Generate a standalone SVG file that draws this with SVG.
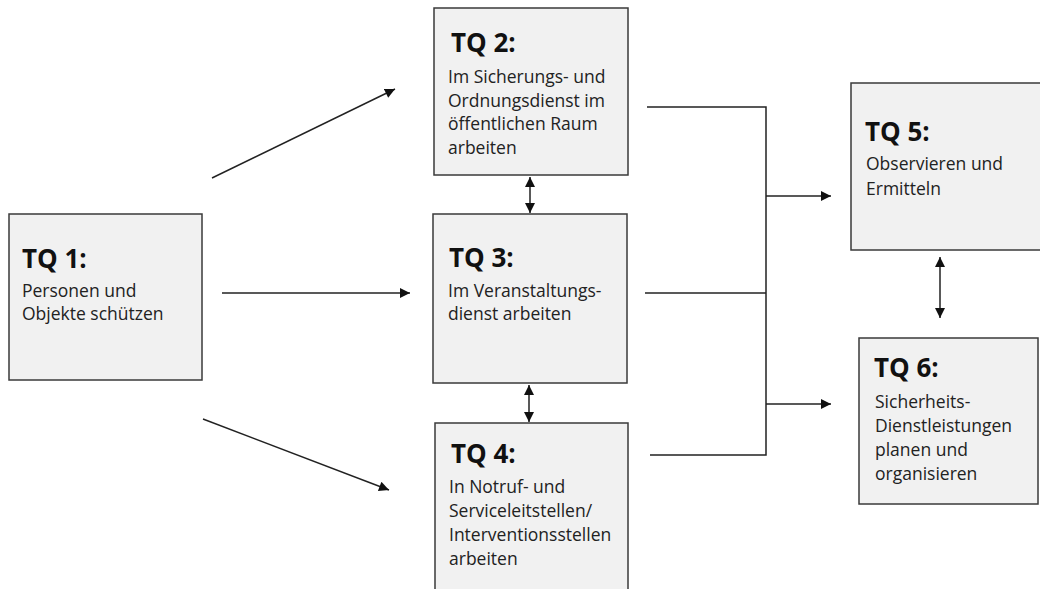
<svg xmlns="http://www.w3.org/2000/svg" width="1040" height="589" viewBox="0 0 1040 589">
<style>
.box{fill:#f1f1f1;stroke:#3a3a3a;stroke-width:1.5}
.t{font-family:"Open Sans","Noto Sans",sans-serif;font-weight:bold;font-size:26px;fill:#111}
.b{font-family:"Open Sans","Noto Sans",sans-serif;font-size:17.5px;fill:#222}
.c{fill:none;stroke:#222;stroke-width:1.5}
</style>
<defs>
<marker id="ah" viewBox="0 0 10 10" refX="10" refY="5" markerWidth="11" markerHeight="10" markerUnits="userSpaceOnUse" orient="auto-start-reverse">
<path d="M0,0 L10,5 L0,10 Z" fill="#111"/>
</marker>
</defs>
<rect width="1040" height="589" fill="#fff"/>
<g id="tq1">
<rect class="box" x="9" y="214" width="193" height="166"/>
<text class="t" x="22" y="268">TQ 1:</text>
<text class="b" x="22" y="297">Personen und</text>
<text class="b" x="22" y="320">Objekte schützen</text>
</g>
<g id="tq2">
<rect class="box" x="434" y="8" width="194" height="167"/>
<text class="t" x="451" y="52">TQ 2:</text>
<text class="b" x="448" y="83">Im Sicherungs- und</text>
<text class="b" x="448" y="107">Ordnungsdienst im</text>
<text class="b" x="448" y="130">öffentlichen Raum</text>
<text class="b" x="448" y="154">arbeiten</text>
</g>
<g id="tq3">
<rect class="box" x="433" y="214" width="194" height="169"/>
<text class="t" x="449" y="267">TQ 3:</text>
<text class="b" x="448" y="297">Im Veranstaltungs-</text>
<text class="b" x="448" y="320">dienst arbeiten</text>
</g>
<g id="tq4">
<rect class="box" x="435" y="423" width="193" height="180"/>
<text class="t" x="451" y="463">TQ 4:</text>
<text class="b" x="449" y="493">In Notruf- und</text>
<text class="b" x="449" y="517">Serviceleitstellen/</text>
<text class="b" x="449" y="541">Interventionsstellen</text>
<text class="b" x="449" y="565">arbeiten</text>
</g>
<g id="tq5">
<rect class="box" x="851" y="83" width="200" height="167"/>
<text class="t" x="865" y="141">TQ 5:</text>
<text class="b" x="866" y="170">Observieren und</text>
<text class="b" x="866" y="195">Ermitteln</text>
</g>
<g id="tq6">
<rect class="box" x="859" y="338" width="179" height="166"/>
<text class="t" x="874" y="377">TQ 6:</text>
<text class="b" x="875" y="408">Sicherheits-</text>
<text class="b" x="875" y="432">Dienstleistungen</text>
<text class="b" x="875" y="456">planen und</text>
<text class="b" x="875" y="480">organisieren</text>
</g>
<g id="connectors">
<line class="c" x1="212" y1="178" x2="395" y2="89" marker-end="url(#ah)"/>
<line class="c" x1="222" y1="293" x2="410" y2="293" marker-end="url(#ah)"/>
<line class="c" x1="203" y1="419" x2="389" y2="490" marker-end="url(#ah)"/>
<line class="c" x1="530" y1="177" x2="530" y2="213" marker-start="url(#ah)" marker-end="url(#ah)"/>
<line class="c" x1="529" y1="385" x2="529" y2="422" marker-start="url(#ah)" marker-end="url(#ah)"/>
<polyline class="c" points="647,107 766,107 766,455 650,455"/>
<line class="c" x1="645" y1="293" x2="766" y2="293"/>
<line class="c" x1="766" y1="196" x2="831" y2="196" marker-end="url(#ah)"/>
<line class="c" x1="766" y1="404" x2="831" y2="404" marker-end="url(#ah)"/>
<line class="c" x1="940" y1="257" x2="940" y2="318" marker-start="url(#ah)" marker-end="url(#ah)"/>
</g>
</svg>
